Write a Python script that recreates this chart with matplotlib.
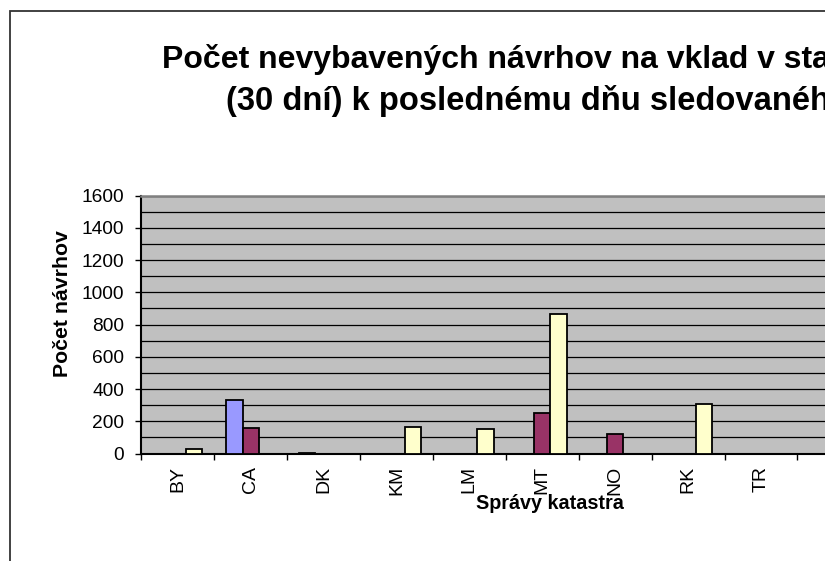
import numpy as np
import matplotlib
matplotlib.use("Agg")
import matplotlib.pyplot as plt
from matplotlib.patches import Rectangle
from matplotlib.ticker import MultipleLocator, FixedLocator

plt.rcParams['font.family'] = ['Liberation Sans', 'DejaVu Sans']

# data
spravy = ["BY", "CA", "DK", "KM", "LM", "MT", "NO", "RK", "TR"]
serie_1 = [0, 335, 5, 0, 0, 0, 0, 0, 0]
serie_2 = [0, 160, 0, 0, 0, 252, 124, 0, 0]
serie_3 = [25, 0, 0, 165, 150, 863, 0, 310, 0]
y_ticks = [0, 200, 400, 600, 800, 1000, 1200, 1400, 1600]

title_1 = "Počet nevybavených návrhov na vklad v stanovenej lehote"
title_2 = "(30 dní) k poslednému dňu sledovaného obdobia"

W, H = 825, 561
fig = plt.figure(figsize=(W / 100, H / 100), dpi=100)

# plot area, extends past the right edge like the cropped original
left, top, bottom = 141.3, 195.7, 453.5
cat_w = 72.9
n_slots = 11
ax = fig.add_axes([left / W, (H - bottom) / H, n_slots * cat_w / W, (bottom - top) / H])
ax.set_facecolor("#C0C0C0")

x = np.arange(len(spravy))
bw = 0.223
colors = ["#9999FF", "#993366", "#FFFFCC"]
for i, vals in enumerate([serie_1, serie_2, serie_3]):
    ax.bar(x + (i - 1) * bw, vals, width=bw, color=colors[i],
           edgecolor="black", linewidth=1.3, zorder=3)

ax.set_xlim(-0.5, n_slots - 0.5)
ax.set_ylim(0, 1600)
ax.yaxis.set_major_locator(FixedLocator(y_ticks))
ax.yaxis.set_minor_locator(MultipleLocator(100))
ax.grid(True, axis="y", which="both", color="black", linewidth=0.9, zorder=1)
ax.set_axisbelow(True)

ax.set_xticks(x)
ax.set_xticklabels(spravy, rotation=90, fontsize=14)
ax.xaxis.set_minor_locator(FixedLocator(np.arange(-0.5, n_slots, 1.0)))
ax.tick_params(axis="x", which="major", length=0, pad=9)
ax.tick_params(axis="x", which="minor", length=4.3, width=1, direction="out", color="black")
ax.tick_params(axis="y", which="major", length=4.5, width=1, direction="out",
               labelsize=13.8, pad=8)
ax.tick_params(axis="y", which="minor", length=0)

for s in ["left", "bottom"]:
    ax.spines[s].set_color("black")
    ax.spines[s].set_linewidth(1.5)
ax.spines["top"].set_color("#808080")
ax.spines["top"].set_linewidth(1.8)
ax.spines["right"].set_visible(False)

# titles (the original is cut off at the right edge)
fig.text(162 / W, (H - 68) / H, title_1, fontsize=23, fontweight="bold",
         ha="left", va="baseline")
fig.text(226 / W, (H - 110) / H, title_2, fontsize=23.6, fontweight="bold",
         ha="left", va="baseline")

fig.text(550 / W, (H - 509) / H, "Správy katastra", fontsize=14.2, fontweight="bold",
         ha="center", va="baseline")
fig.text(62 / W, (H - 304) / H, "Počet návrhov", fontsize=15.3, fontweight="bold",
         rotation=90, ha="center", va="center")

# chart frame
fig.add_artist(Rectangle((10 / W, -0.2), 2, (H - 11) / H + 0.2, transform=fig.transFigure,
                         fill=False, edgecolor="#333333", linewidth=1.3))

fig.savefig("out.png", dpi=100)
